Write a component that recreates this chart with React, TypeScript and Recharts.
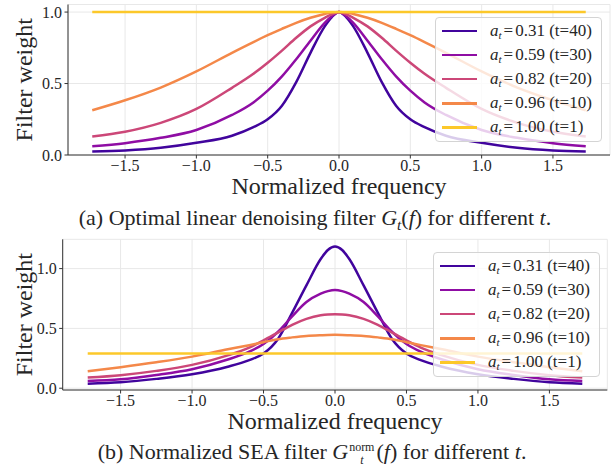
import React from "react"
import { LineChart, Line, XAxis, YAxis, CartesianGrid, Legend } from "recharts"

const freq = [-1.73, -1.5, -1.25, -1.0, -0.75, -0.6, -0.5, -0.4, -0.3, -0.2, -0.1, -0.05, 0, 0.05, 0.1, 0.2, 0.3, 0.4, 0.5, 0.6, 0.75, 1.0, 1.25, 1.5, 1.73]

const alphas = ["0.31", "0.59", "0.82", "0.96", "1.00"]
const steps = [40, 30, 20, 10, 1]
const COLORS = ["#41049d", "#8f0da4", "#cc4778", "#f48849", "#fcc82a"]

// (a) optimal linear filter G_t(f)
const gT40 = [0.025, 0.032, 0.05, 0.085, 0.135, 0.195, 0.25, 0.345, 0.51, 0.715, 0.9, 0.965, 1.0, 0.965, 0.9, 0.715, 0.51, 0.345, 0.25, 0.195, 0.135, 0.085, 0.05, 0.032, 0.025]
const gT30 = [0.062, 0.083, 0.12, 0.175, 0.28, 0.368, 0.45, 0.55, 0.67, 0.8, 0.925, 0.97, 1.0, 0.97, 0.925, 0.8, 0.67, 0.55, 0.45, 0.368, 0.28, 0.175, 0.12, 0.083, 0.062]
const gT20 = [0.13, 0.163, 0.225, 0.322, 0.47, 0.568, 0.645, 0.73, 0.82, 0.9, 0.96, 0.985, 1.0, 0.985, 0.96, 0.9, 0.82, 0.73, 0.645, 0.568, 0.47, 0.322, 0.225, 0.163, 0.13]
const gT10 = [0.313, 0.383, 0.472, 0.585, 0.715, 0.79, 0.838, 0.883, 0.925, 0.96, 0.987, 0.997, 1.0, 0.997, 0.987, 0.96, 0.925, 0.883, 0.838, 0.79, 0.715, 0.585, 0.472, 0.383, 0.313]
const gT1 = [1, 1, 1, 1, 1, 1, 1, 1, 1, 1, 1, 1, 1, 1, 1, 1, 1, 1, 1, 1, 1, 1, 1, 1, 1]

// (b) normalized SEA filter
const nT40 = [0.038, 0.05, 0.078, 0.117, 0.18, 0.235, 0.29, 0.41, 0.63, 0.86, 1.08, 1.155, 1.184, 1.155, 1.08, 0.86, 0.63, 0.41, 0.29, 0.235, 0.18, 0.117, 0.078, 0.05, 0.038]
const nT30 = [0.061, 0.075, 0.111, 0.159, 0.24, 0.305, 0.37, 0.47, 0.6, 0.72, 0.79, 0.812, 0.822, 0.812, 0.79, 0.72, 0.6, 0.47, 0.37, 0.305, 0.24, 0.159, 0.111, 0.075, 0.061]
const nT20 = [0.089, 0.109, 0.145, 0.195, 0.275, 0.34, 0.4, 0.465, 0.53, 0.58, 0.61, 0.617, 0.619, 0.617, 0.61, 0.58, 0.53, 0.465, 0.4, 0.34, 0.275, 0.195, 0.145, 0.109, 0.089]
const nT10 = [0.142, 0.176, 0.217, 0.264, 0.325, 0.36, 0.385, 0.41, 0.425, 0.437, 0.443, 0.445, 0.446, 0.445, 0.443, 0.437, 0.425, 0.41, 0.385, 0.36, 0.325, 0.264, 0.217, 0.176, 0.142]
const nT1 = [0.29, 0.29, 0.29, 0.29, 0.29, 0.29, 0.29, 0.29, 0.29, 0.29, 0.29, 0.29, 0.29, 0.29, 0.29, 0.29, 0.29, 0.29, 0.29, 0.29, 0.29, 0.29, 0.29, 0.29, 0.29]

const xTicks = [-1.5, -1.0, -0.5, 0, 0.5, 1.0, 1.5]
const yTicks = [0, 0.5, 1.0]

const FONT = "'Liberation Serif', 'Times New Roman', 'DejaVu Serif', serif"
const INK = "#262626"

const build = (series: number[][]) =>
  freq.map((f, i) => {
    const row: Record<string, number> = { f }
    series.forEach((s, k) => (row[`s${k}`] = s[i]))
    return row
  })

const dataA = build([gT40, gT30, gT20, gT10, gT1])
const dataB = build([nT40, nT30, nT20, nT10, nT1])

const fmt = (v: number) => v.toFixed(1).replace("-", "\u2212")

function LegendBox() {
  return (
    <div
      style={{
        position: "relative",
        width: 167,
        height: 125,
        boxSizing: "border-box",
        background: "rgba(255,255,255,0.8)",
        border: "1px solid #d4d4d4",
        borderRadius: 4,
        fontFamily: FONT,
        fontSize: 17,
        color: INK,
      }}
    >
      {alphas.map((a, i) => (
        <div key={i} style={{ position: "absolute", left: 0, top: 12.5 + i * 24.2 - 10, height: 20, width: "100%" }}>
          <div style={{ position: "absolute", left: 6, top: 9, width: 35, height: 2.5, background: COLORS[i] }} />
          <div style={{ position: "absolute", left: 54, top: 0, lineHeight: "20px", whiteSpace: "nowrap" }}>
            <i>a</i>
            <sub style={{ fontSize: "0.65em", fontStyle: "italic", verticalAlign: "-0.25em" }}>t</sub>
            <span style={{ margin: "0 2px" }}>=</span>
            {a} (t={steps[i]})
          </div>
        </div>
      ))}
    </div>
  )
}

type PanelProps = {
  data: Record<string, number>[]
  yDomain: [number, number]
  xDomain: [number, number]
  leftW: number
  rightM: number
  topM: number
  legendLeft: number
  legendTop: number
}

function Panel({ data, yDomain, xDomain, leftW, rightM, topM, legendLeft, legendTop }: PanelProps) {
  const tick = { fill: INK, fontSize: 16, fontFamily: FONT }
  return (
    <LineChart width={616} height={200} data={data} margin={{ top: topM, right: rightM, left: 0, bottom: 0 }}>
      <CartesianGrid stroke="#e8e8e8" strokeWidth={1} />
      <XAxis
        dataKey="f"
        type="number"
        domain={xDomain}
        ticks={xTicks}
        tickFormatter={fmt}
        allowDataOverflow
        height={45}
        tick={tick}
        tickSize={3.5}
        tickMargin={1}
        axisLine={{ stroke: "#333" }}
        tickLine={{ stroke: "#333" }}
        label={(p: any) => (
          <text
            x={p.viewBox.x + p.viewBox.width / 2}
            y={p.viewBox.y + 39}
            textAnchor="middle"
            fontSize={24}
            fontFamily={FONT}
            fill={INK}
          >
            Normalized frequency
          </text>
        )}
      />
      <XAxis xAxisId="top" orientation="top" type="number" domain={xDomain} height={0} tick={false} tickLine={false} axisLine={{ stroke: "#333" }} />
      <YAxis
        type="number"
        domain={yDomain}
        ticks={yTicks}
        tickFormatter={fmt}
        allowDataOverflow
        width={leftW}
        tick={tick}
        tickSize={3.5}
        tickMargin={2.5}
        axisLine={{ stroke: "#333" }}
        tickLine={{ stroke: "#333" }}
        label={(p: any) => {
          const cx = 24
          const cy = p.viewBox.y + p.viewBox.height / 2
          return (
            <text
              x={cx}
              y={cy}
              transform={`rotate(-90, ${cx}, ${cy})`}
              textAnchor="middle"
              dominantBaseline="central"
              fontSize={24}
              fontFamily={FONT}
              fill={INK}
            >
              Filter weight
            </text>
          )
        }}
      />
      <YAxis yAxisId="right" orientation="right" type="number" domain={yDomain} width={0} tick={false} tickLine={false} axisLine={{ stroke: "#333" }} />
      {COLORS.map((c, k) => (
        <Line
          key={k}
          type="monotone"
          dataKey={`s${k}`}
          stroke={c}
          strokeWidth={2.5}
          dot={false}
          isAnimationActive={false}
        />
      ))}
      <Legend
        layout="vertical"
        align="center"
        verticalAlign="middle"
        content={() => <LegendBox />}
        wrapperStyle={{ top: legendTop, left: legendLeft, width: 167, height: 125 }}
      />
    </LineChart>
  )
}

const captionStyle: React.CSSProperties = {
  position: "absolute",
  left: 0,
  width: 616,
  textAlign: "center",
  fontFamily: FONT,
  fontSize: 22,
  color: INK,
  whiteSpace: "nowrap",
  lineHeight: "26px",
}

export default function App() {
  return (
    <div style={{ position: "absolute", left: 0, top: 0, width: 616, height: 467, background: "#fff" }}>
      <div style={{ position: "absolute", left: 0, top: 0 }}>
        <Panel data={dataA} yDomain={[0, 1.053]} xDomain={[-1.9, 1.9]} leftW={68} rightM={6} topM={4.5} legendLeft={435} legendTop={17} />
      </div>
      <div style={{ ...captionStyle, top: 205, paddingLeft: 14, boxSizing: "border-box" }}>
        (a) Optimal linear denoising filter <i>G</i>
        <sub style={{ fontSize: "0.7em", fontStyle: "italic", verticalAlign: "-0.3em" }}>t</sub>
        (<i>f</i>) for different <i>t</i>.
      </div>
      <div style={{ position: "absolute", left: 0, top: 235 }}>
        <Panel data={dataB} yDomain={[-0.015, 1.245]} xDomain={[-1.905, 1.905]} leftW={62.7} rightM={8.7} topM={4.3} legendLeft={433} legendTop={17} />
      </div>
      <div style={{ ...captionStyle, top: 439, paddingLeft: 8, boxSizing: "border-box" }}>
        (b) Normalized SEA filter <i>G</i>
        <span
          style={{
            display: "inline-flex",
            flexDirection: "column",
            verticalAlign: "middle",
            fontSize: 12,
            lineHeight: "13px",
            marginLeft: 1,
            marginRight: 2,
          }}
        >
          <span>norm</span>
          <i>t</i>
        </span>
        (<i>f</i>) for different <i>t</i>.
      </div>
    </div>
  )
}
